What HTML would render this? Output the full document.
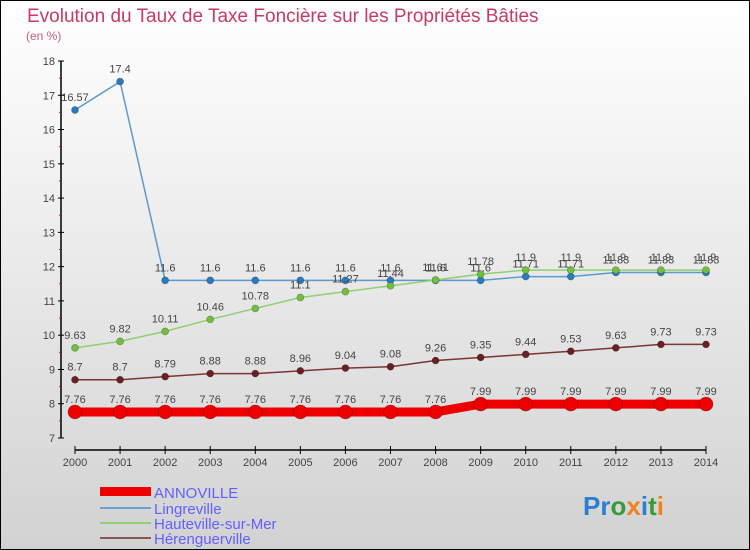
<!DOCTYPE html>
<html><head><meta charset="utf-8"><style>
body{margin:0}
#c{width:748px;height:548px;border:1px solid #000;background:linear-gradient(#fff,#f2f2f2 30%,#d2d2d2);position:relative;font-family:"Liberation Sans",sans-serif;overflow:hidden}
</style></head><body>
<div id="c">
<svg id="s" width="750" height="550" style="position:absolute;left:-1px;top:-1px">
<text x="27" y="22" font-size="19" fill="#c83a64">Evolution du Taux de Taxe Foncière sur les Propriétés Bâties</text>
<text x="26" y="40" font-size="12" fill="#c06080">(en %)</text>
<line x1="61" y1="61" x2="61" y2="438" stroke="#000" stroke-width="1.5"/>
<line x1="75" y1="450" x2="706" y2="450" stroke="#000" stroke-width="1.5"/>
<g id="g"></g>
<g font-size="15" fill="#6060ff">
<rect x="100" y="487" width="51" height="9" fill="#e00"/>
<text x="154" y="498">ANNOVILLE</text>
<line x1="100" y1="508" x2="151" y2="508" stroke="#6aa0d0" stroke-width="2"/>
<text x="154" y="514">Lingreville</text>
<line x1="100" y1="523" x2="151" y2="523" stroke="#90d070" stroke-width="2"/>
<text x="154" y="529">Hauteville-sur-Mer</text>
<line x1="100" y1="538" x2="151" y2="538" stroke="#8a5555" stroke-width="2"/>
<text x="154" y="544">Hérenguerville</text>
</g>
<text x="583" y="515" font-size="26" font-weight="bold"><tspan fill="#2a7fd0">Pr</tspan><tspan fill="#3a9a3a">o</tspan><tspan fill="#f08020">x</tspan><tspan fill="#2a7fd0">i</tspan><tspan fill="#3a9a3a">t</tspan><tspan fill="#f08020">i</tspan></text>
</svg></div>
<script>
const years=[2000,2001,2002,2003,2004,2005,2006,2007,2008,2009,2010,2011,2012,2013,2014];
const yTicks=[7,8,9,10,11,12,13,14,15,16,17,18];
const annoville=[7.76,7.76,7.76,7.76,7.76,7.76,7.76,7.76,7.76,7.99,7.99,7.99,7.99,7.99,7.99];
const lingreville=[16.57,17.4,11.6,11.6,11.6,11.6,11.6,11.6,11.6,11.6,11.71,11.71,11.83,11.83,11.83];
const hauteville=[9.63,9.82,10.11,10.46,10.78,11.1,11.27,11.44,11.61,11.78,11.9,11.9,11.9,11.9,11.9];
const herenguerville=[8.7,8.7,8.79,8.88,8.88,8.96,9.04,9.08,9.26,9.35,9.44,9.53,9.63,9.73,9.73];
const NS='http://www.w3.org/2000/svg',g=document.getElementById('g');
const X=i=>75+i*(706-75)/(years.length-1);
const Y=v=>438-(v-7)*(438-61)/11;
function mk(t,a){const e=document.createElementNS(NS,t);for(const k in a)e.setAttribute(k,a[k]);g.appendChild(e);return e;}
yTicks.forEach(v=>{
 const l=mk('line',{x1:58,x2:64,y1:Y(v),y2:Y(v),stroke:'#000'});
 
 
 const t=mk('text',{x:55,y:Y(v)+4,'font-size':11,'text-anchor':'end',fill:'#444'});t.textContent=v;
 
 
 if(v<18){const m=mk('line',{x1:59,x2:61,y1:Y(v+0.5),y2:Y(v+0.5),stroke:'#e00'});
 
 }
});
years.forEach((yr,i)=>{
 const l=mk('line',{x1:X(i),x2:X(i),y1:446,y2:454,stroke:'#000'});
 
 
 const t=mk('text',{x:X(i),y:466,'font-size':11,'text-anchor':'middle',fill:'#444'});t.textContent=yr;
 
 
});
function series(d,name,col,w,r,dot){
 const p=mk('polyline',{points:d.map((v,i)=>X(i)+','+Y(v)).join(' '),fill:'none',stroke:col,'stroke-width':w});
 
 
 d.forEach((v,i)=>{
  const c=mk('circle',{cx:X(i),cy:Y(v),r:r,fill:dot,stroke:'rgba(0,0,0,0.3)','stroke-width':0.7});
  
  
  const t=mk('text',{x:X(i),y:Y(v)-9,'font-size':11,'text-anchor':'middle',fill:'#444'});t.textContent=v;
  
  
 });
}
series(herenguerville,'herenguerville','#7a3535',1.5,3.5,'#6a2020');
series(lingreville,'lingreville','#5a9ad0',1.5,3.5,'#2a7ac0');
series(hauteville,'hauteville','#90d070',1.5,3.5,'#70c040');
series(annoville,'annoville','#e00',9,7,'#e00');
</script>
</body></html>
